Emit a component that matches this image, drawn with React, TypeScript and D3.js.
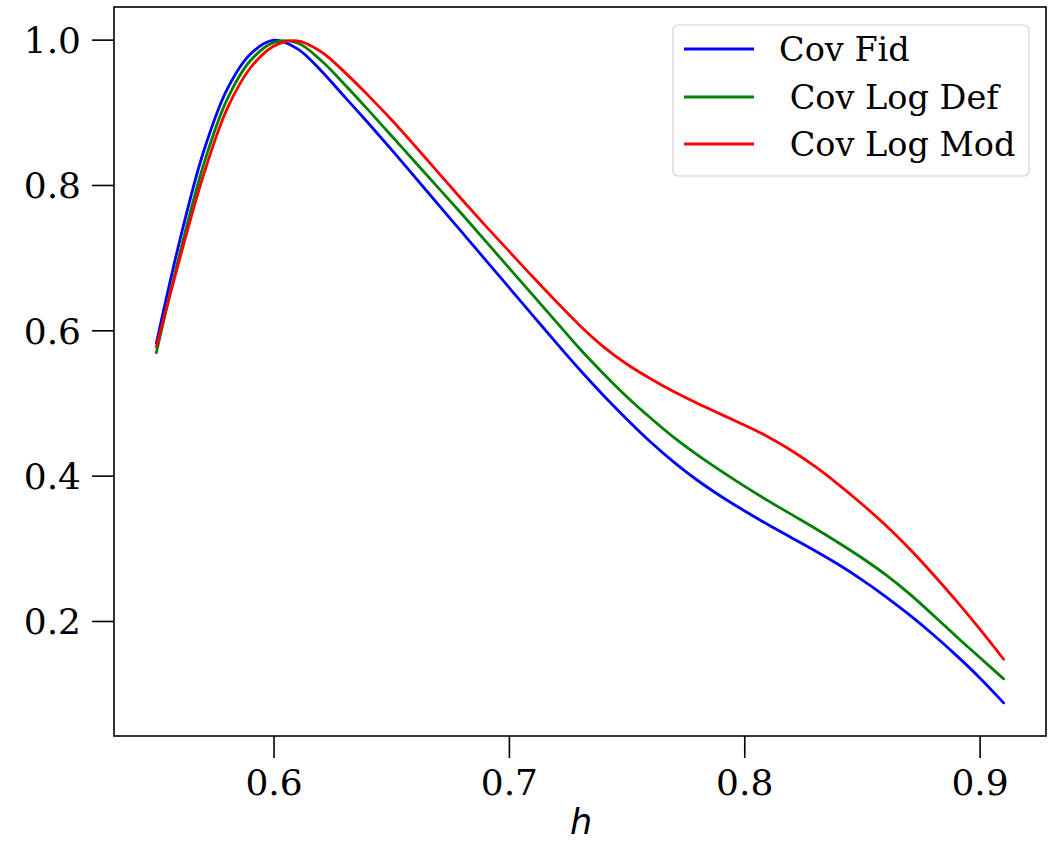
import React from "react";
import * as d3 from "d3";

const hValues = [0.55, 0.56, 0.57, 0.58, 0.59, 0.6, 0.61, 0.62, 0.63, 0.64, 0.65, 0.66, 0.67, 0.68, 0.69, 0.7, 0.71, 0.72, 0.73, 0.74, 0.75, 0.76, 0.77, 0.78, 0.79, 0.8, 0.81, 0.82, 0.83, 0.84, 0.85, 0.86, 0.87, 0.88, 0.89, 0.9, 0.91];

const covFid = [0.583, 0.725, 0.846, 0.932, 0.981, 1.0, 0.988, 0.958, 0.922, 0.886, 0.849, 0.811, 0.773, 0.735, 0.697, 0.659, 0.621, 0.583, 0.546, 0.511, 0.478, 0.447, 0.419, 0.394, 0.372, 0.352, 0.333, 0.315, 0.297, 0.278, 0.257, 0.234, 0.209, 0.182, 0.153, 0.122, 0.088];
const covLogDef = [0.57, 0.707, 0.828, 0.918, 0.972, 0.997, 0.996, 0.972, 0.939, 0.904, 0.868, 0.832, 0.796, 0.76, 0.723, 0.686, 0.649, 0.612, 0.575, 0.541, 0.509, 0.48, 0.453, 0.429, 0.407, 0.386, 0.366, 0.347, 0.328, 0.308, 0.287, 0.264, 0.238, 0.209, 0.179, 0.15, 0.121];
const covLogMod = [0.578, 0.7, 0.814, 0.905, 0.962, 0.992, 0.999, 0.984, 0.956, 0.924, 0.89, 0.854, 0.817, 0.78, 0.744, 0.709, 0.674, 0.64, 0.607, 0.578, 0.554, 0.534, 0.516, 0.5, 0.485, 0.47, 0.454, 0.435, 0.413, 0.388, 0.361, 0.332, 0.3, 0.265, 0.228, 0.189, 0.148];

const seriesNames = ["Cov Fid", " Cov Log Def", " Cov Log Mod"];
const seriesColors = ["#0000ff", "#008000", "#ff0000"];
const seriesData = [covFid, covLogDef, covLogMod];

const xTicks = [0.6, 0.7, 0.8, 0.9];
const yTicks = [0.2, 0.4, 0.6, 0.8, 1.0];

export default function App() {
  const W = 1048, H = 842;
  const left = 114, right = 1046, top = 7, bottom = 736;
  const xMin = d3.min(hValues)!, xMax = d3.max(hValues)!;
  const allY = seriesData.flat();
  const yMin = d3.min(allY)!, yMax = d3.max(allY)!;
  const xPad = (xMax - xMin) * 0.05;
  const yPad = (yMax - yMin) * 0.05;
  const x = d3.scaleLinear().domain([xMin - xPad, xMax + xPad]).range([left, right]);
  const y = d3.scaleLinear().domain([yMin - yPad, yMax + yPad]).range([bottom, top]);

  const line = d3
    .line<number>()
    .x((_, i) => x(hValues[i]))
    .y((d) => y(d))
    .curve(d3.curveCatmullRom.alpha(0.5));

  const serif = "'DejaVu Serif', serif";
  const tickFont = 36;
  const legFont = 33.5;

  const legX = 673, legY = 25, legW = 356, legH = 151;
  const legRows = [49, 97, 144];

  return (
    <svg width={W} height={H} style={{ position: "absolute", left: 0, top: 0, background: "#fff" }}>
      <rect x={0} y={0} width={W} height={H} fill="#fff" />
      <defs>
        <clipPath id="plotclip">
          <rect x={left} y={top} width={right - left} height={bottom - top} />
        </clipPath>
      </defs>
      <g clipPath="url(#plotclip)">
        {seriesData.map((s, k) => (
          <path key={k} d={line(s) || ""} fill="none" stroke={seriesColors[k]} strokeWidth={2.8} strokeLinejoin="round" strokeLinecap="round" />
        ))}
      </g>
      <rect x={left} y={top} width={right - left} height={bottom - top} fill="none" stroke="#000" strokeWidth={1.6} />
      {yTicks.map((t) => (
        <g key={"y" + t}>
          <line x1={left - 22} x2={left} y1={y(t)} y2={y(t)} stroke="#000" strokeWidth={1.6} />
          <text x={left - 33} y={y(t)} dy="0.36em" textAnchor="end" fontFamily={serif} fontSize={tickFont} fill="#000">
            {t.toFixed(1)}
          </text>
        </g>
      ))}
      {xTicks.map((t) => (
        <g key={"x" + t}>
          <line x1={x(t)} x2={x(t)} y1={bottom} y2={bottom + 22} stroke="#000" strokeWidth={1.6} />
          <text x={x(t)} y={795} textAnchor="middle" fontFamily={serif} fontSize={tickFont} fill="#000">
            {t.toFixed(1)}
          </text>
        </g>
      ))}
      <text x={581} y={834} textAnchor="middle" fontFamily="'DejaVu Sans', sans-serif" fontStyle="italic" fontSize={35} fill="#000">
        h
      </text>
      <rect x={legX} y={legY} width={legW} height={legH} rx={5} ry={5} fill="#fff" fillOpacity={0.8} stroke="#d0d0d0" strokeWidth={1.2} />
      {seriesNames.map((n, k) => (
        <g key={n}>
          <line x1={684} x2={754} y1={legRows[k]} y2={legRows[k]} stroke={seriesColors[k]} strokeWidth={2.8} />
          <text x={779} y={legRows[k] + 12} fontFamily={serif} fontSize={legFont} fill="#000" style={{ whiteSpace: "pre" }}>
            {n}
          </text>
        </g>
      ))}
    </svg>
  );
}
